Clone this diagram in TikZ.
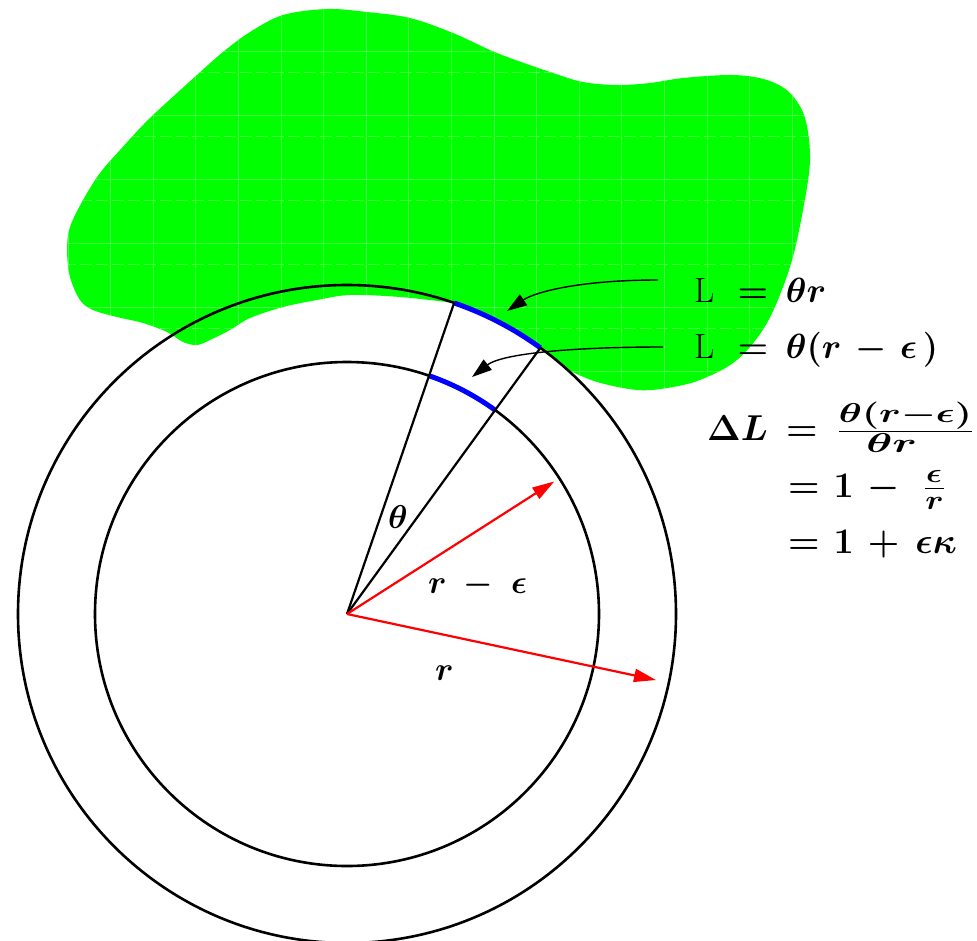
\RequirePackage{fix-cm}
\documentclass[tikz,border=0pt]{standalone}
\usepackage{amsmath}
\usepackage{graphicx}
\usetikzlibrary{arrows.meta}
\definecolor{blobgreen}{RGB}{0,255,0}
\definecolor{gridgreen}{RGB}{70,255,70}
\newcommand{\lblsize}{\fontsize{35}{42}\selectfont}
\newcommand{\insize}{\fontsize{33}{40}\selectfont}
\newcommand{\eqnsize}{\fontsize{36}{43}\selectfont}
\newcommand{\wide}[2]{\scalebox{#1}[1.08]{$\scriptstyle #2$}}
\newcommand{\beq}{\mathrel{\boldsymbol{=}}}
\newcommand{\bmin}{\mathbin{\boldsymbol{-}}}
\newcommand{\bplus}{\mathbin{\boldsymbol{+}}}
\tikzset{
  circ/.style={line width=2.6pt, draw=black},
  radial/.style={line width=2.2pt, draw=black},
  arcblue/.style={line width=5pt, draw=blue},
  vec/.style={line width=2.2pt, draw=red, -{Triangle[length=22pt,width=13pt]}},
  callout/.style={line width=1.4pt, draw=black, -{Triangle[length=20pt,width=13pt]}},
  lbl/.style={inner sep=0pt},
  gridline/.style={line width=0.5pt, draw=gridgreen},
}
\begin{document}
\begin{tikzpicture}[x=1pt,y=-1pt]
\useasboundingbox (0,0) rectangle (977,940);
\coordinate (C) at (347,614);
% green region
\fill[blobgreen] plot[smooth, tension=0.55] coordinates {
 (567.1,369.5) (597,382) (637,390) (667,388) (700,380) (737,360) (767,323)
 (790,267) (803,210) (810,160) (805,118) (790,93) (767,80) (733,75) (683,78)
 (650,83) (617,85) (583,82) (550,72) (497,53) (453,33) (410,18) (367,12)
 (327,9) (283,15) (250,32) (223,52) (197,75) (150,118) (120,150) (100,173)
 (83,200) (70,227) (67,250) (70,277) (80,300) (93,310) (117,317) (143,323)
 (167,332) (183,342) (197,345) (210,340) (230,330) (250,318) (283,307)
 (317,300) (350,295) (400,297) (454.1,302.9)}
 arc[start angle=-71, end angle=-48, radius=329] -- cycle;
\begin{scope}
  \clip plot[smooth, tension=0.55] coordinates {
 (567.1,369.5) (597,382) (637,390) (667,388) (700,380) (737,360) (767,323)
 (790,267) (803,210) (810,160) (805,118) (790,93) (767,80) (733,75) (683,78)
 (650,83) (617,85) (583,82) (550,72) (497,53) (453,33) (410,18) (367,12)
 (327,9) (283,15) (250,32) (223,52) (197,75) (150,118) (120,150) (100,173)
 (83,200) (70,227) (67,250) (70,277) (80,300) (93,310) (117,317) (143,323)
 (167,332) (183,342) (197,345) (210,340) (230,330) (250,318) (283,307)
 (317,300) (350,295) (400,297) (454.1,302.9)}
 arc[start angle=-71, end angle=-48, radius=329] -- cycle;
  \foreach \i in {0,...,19} {\draw[gridline] ({25.2+42.6*\i},0) -- ({25.2+42.6*\i},420);}
  \foreach \i in {0,...,6} {\draw[gridline] (0,{51.7+64*\i}) -- (977,{51.7+64*\i});}
  \foreach \i in {0,...,6} {\draw[gridline, dash pattern=on 12pt off 4pt] (0,{72.7+64*\i}) -- (977,{72.7+64*\i});}
\end{scope}
% circles
\draw[circ] (C) circle[radius=329];
\draw[circ] (C) circle[radius=252];
% points
\path (C) ++(-71:329) coordinate (P1);
\path (C) ++(-54:329) coordinate (P2);
\path (C) ++(-71:252) coordinate (Q1);
\path (C) ++(-54:252) coordinate (Q2);
% blue arcs
\draw[arcblue] (P1) arc[start angle=-71, end angle=-54, radius=329];
\draw[arcblue] (Q1) arc[start angle=-71, end angle=-54, radius=252];
% radial lines
\draw[radial] (C) -- (P1);
\draw[radial] (C) -- (P2);
% red vectors
\path (C) ++(-32.6:246) coordinate (V1);
\path (C) ++(12.06:316) coordinate (V2);
\draw[vec] (C) -- (V1);
\draw[vec] (C) -- (V2);
% labels
\node[lbl, anchor=base] (thlab) at (398,528) {\insize$\boldsymbol{\theta}$};
\node[lbl, anchor=base west] (rmelab) at (428,593) {\insize$\boldsymbol{r}\mkern5mu\bmin\mkern6mu\boldsymbol{\epsilon}$};
\node[lbl, anchor=base west] (rlab) at (435,680) {\insize$\boldsymbol{r}$};
\node[lbl, anchor=base west] (lab1) at (694,302) {\lblsize$\textnormal{L}\mkern7mu\beq\mkern4mu\boldsymbol{\theta r}$};
\node[lbl, anchor=base west] (lab2) at (694,358) {\lblsize$\textnormal{L}\mkern7mu\beq\mkern4mu\boldsymbol{\theta(r}\mkern3mu\bmin\mkern3mu\boldsymbol{\epsilon}\mkern3mu\boldsymbol{)}$};
% callouts
\coordinate (S1) at (658,280);
\coordinate (T1) at (507,311);
\coordinate (S2) at (663,347);
\coordinate (T2) at (472,377);
\draw[callout] (S1) .. controls (580,280) and (535,292) .. (T1);
\draw[callout] (S2) .. controls (560,347) and (500,355) .. (T2);
% equations
\node[lbl, anchor=base west] (d1) at (707,440) {\eqnsize$\boldsymbol{\Delta L}\mkern4mu\beq\mkern5mu\frac{\wide{1.55}{\boldsymbol{\theta(r-\epsilon)}}}{\wide{1.75}{\boldsymbol{\theta r}}}$};
\node[lbl, anchor=base west] (d2) at (788,497) {\eqnsize$\beq\mkern2mu \boldsymbol{1}\mkern3mu\bmin\mkern8mu\frac{\wide{1.3}{\boldsymbol{\epsilon}}}{\wide{1.3}{\boldsymbol{r}}}$};
\node[lbl, anchor=base west] (d3) at (788,553) {\eqnsize$\beq\mkern2mu \boldsymbol{1}\mkern3mu\bplus\mkern4mu\boldsymbol{\epsilon\kappa}$};
\end{tikzpicture}
\end{document}
